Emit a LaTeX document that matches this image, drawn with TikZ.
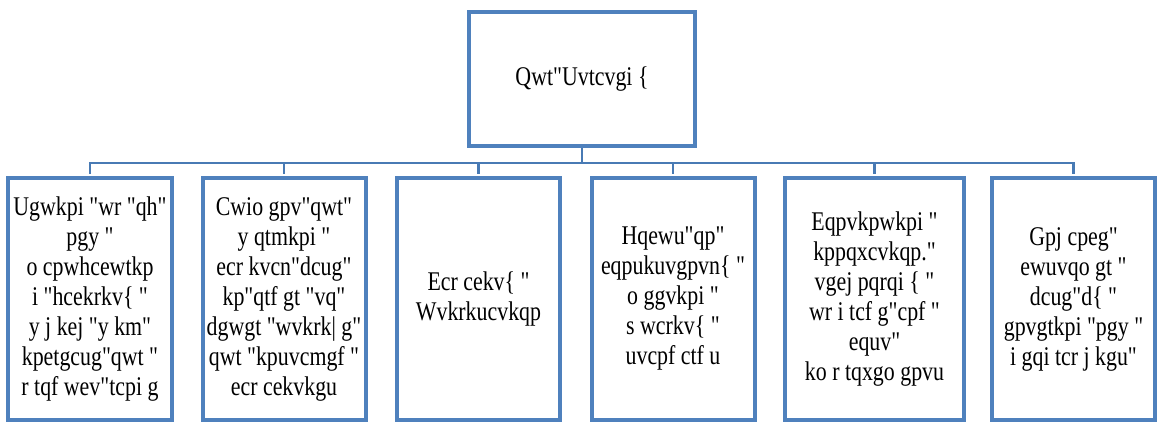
\documentclass[tikz,border=0pt]{standalone}
\usepackage{fontspec}
\newfontfamily\boxfont{Liberation Serif}[FakeStretch=0.81]
\definecolor{boxblue}{RGB}{79,129,189}
\definecolor{linkblue}{RGB}{72,122,180}
\begin{document}
\begin{tikzpicture}[x=1pt,y=-1pt,
  card/.style={draw=boxblue,line width=4pt,fill=white,inner sep=0pt,align=center,
    font=\boxfont\fontsize{27}{30}\selectfont,minimum height=242pt},
  link/.style={draw=linkblue,line width=2.5pt}]
\useasboundingbox (0,0) rectangle (1159,424);
\node[card,minimum width=226pt,minimum height=134pt] (top) at (582,79) {Qwt"Uvtcvgi \{};
\node[card,minimum width=164pt] (b1) at (90,299) {Ugwkpi "wr "qh"\\pgy "\\o cpwhcewtkp\\i "hcekrkv\{ "\\y j kej "y km"\\kpetgcug"qwt "\\r tqf wev"tcpi g};
\node[card,minimum width=163pt] (b2) at (284,299) {Cwio gpv"qwt"\\y qtmkpi "\\ecr kvcn"dcug"\\kp"qtf gt "vq"\\dgwgt "wvkrk| g"\\qwt "kpuvcmgf "\\ecr cekvkgu};
\node[card,minimum width=163pt] (b3) at (478.5,299) {Ecr cekv\{ "\\Wvkrkucvkqp};
\node[card,minimum width=163pt] (b4) at (673,299) {Hqewu"qp"\\eqpukuvgpvn\{ "\\o ggvkpi "\\s wcrkv\{ "\\uvcpf ctf u};
\node[card,minimum width=179pt] (b5) at (874.5,299) {Eqpvkpwkpi "\\kppqxcvkqp."\\vgej pqrqi \{ "\\wr i tcf g"cpf "\\equv"\\ko r tqxgo gpvu};
\node[card,minimum width=163pt] (b6) at (1073.5,299) {Gpj cpeg"\\ewuvqo gt "\\dcug"d\{ "\\gpvgtkpi "pgy "\\i gqi tcr j kgu"};
\coordinate (bus) at (582,163);
\draw[link] (top.south) -- (bus);
\foreach \n in {b1,b2,b3,b4,b5,b6} \draw[link,shorten >=2pt] (bus) -| (\n.north);
\end{tikzpicture}
\end{document}
